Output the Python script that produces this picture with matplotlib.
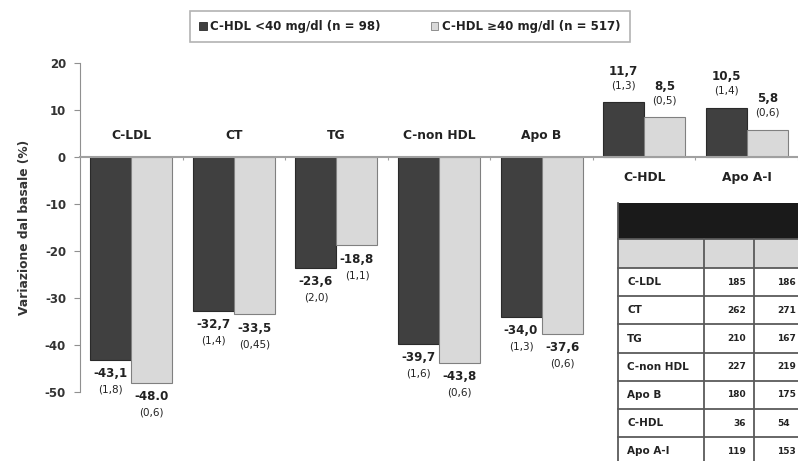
import numpy as np
import matplotlib
matplotlib.use('Agg')
from matplotlib import pyplot as plt
from matplotlib.patches import Rectangle

# data
categories = ['C-LDL', 'CT', 'TG', 'C-non HDL', 'Apo B', 'C-HDL', 'Apo A-I']
low_hdl = [-43.1, -32.7, -23.6, -39.7, -34.0, 11.7, 10.5]
high_hdl = [-48.0, -33.5, -18.8, -43.8, -37.6, 8.5, 5.8]
low_lbl = ['-43,1', '-32,7', '-23,6', '-39,7', '-34,0', '11,7', '10,5']
high_lbl = ['-48.0', '-33,5', '-18,8', '-43,8', '-37,6', '8,5', '5,8']
low_se = ['(1,8)', '(1,4)', '(2,0)', '(1,6)', '(1,3)', '(1,3)', '(1,4)']
high_se = ['(0,6)', '(0,45)', '(1,1)', '(0,6)', '(0,6)', '(0,5)', '(0,6)']
legend_labels = ['C-HDL <40 mg/dl (n = 98)', 'C-HDL \u226540 mg/dl (n = 517)']

tab_rows = ['C-LDL', 'CT', 'TG', 'C-non HDL', 'Apo B', 'C-HDL', 'Apo A-I']
tab_col1 = ['185', '262', '210', '227', '180', '36', '119']
tab_col2 = ['186', '271', '167', '219', '175', '54', '153']

dark = '#404040'
light = '#d9d9d9'
txt = '#222222'
W, H = 798, 461

fig = plt.figure(figsize=(7.98, 4.61), dpi=100)
ax = fig.add_axes([80 / W, 1 - 392 / H, 1 - 80 / W, (392 - 63) / H])

x = np.arange(len(categories))
w = 0.4
ax.bar(x - w / 2, low_hdl, w, color=dark, edgecolor='#2a2a2a', linewidth=0.8, zorder=2)
ax.bar(x + w / 2, high_hdl, w, color=light, edgecolor='#808080', linewidth=0.8, zorder=2)

ax.set_xlim(-0.5, 6.426)
ax.set_ylim(-50, 20)

for sp in ['top', 'right']:
    ax.spines[sp].set_visible(False)
ax.spines['left'].set_color('#909090')
ax.spines['bottom'].set_position(('data', 0))
ax.spines['bottom'].set_color('#a0a0a0')
ax.spines['bottom'].set_linewidth(1.5)
ax.spines['bottom'].set_zorder(3)

yt = [-50, -40, -30, -20, -10, 0, 10, 20]
ax.set_yticks(yt)
ax.set_yticklabels([str(v) for v in yt], fontsize=8.5, fontweight='bold', color='#333333')
ax.tick_params(axis='y', length=4, color='#909090', pad=6)
ax.set_xticks(x + 0.5)
ax.set_xticklabels([])
ax.tick_params(axis='x', length=2, color='#a0a0a0', direction='out')
ax.set_ylabel('Variazione dal basale (%)', fontsize=8.8, fontweight='bold',
              color='#333333', labelpad=10)

# value labels
for i in range(len(categories)):
    for off, v, lab, se in [(-w / 2, low_hdl[i], low_lbl[i], low_se[i]),
                            (w / 2, high_hdl[i], high_lbl[i], high_se[i])]:
        d1, d2 = (-14, -30) if v < 0 else (31, 17)
        ax.annotate(lab, (i + off, v), xytext=(0, d1), textcoords='offset pixels',
                    ha='center', va='center', fontsize=8.6, fontweight='bold', color=txt,
                    annotation_clip=False)
        ax.annotate(se, (i + off, v), xytext=(0, d2), textcoords='offset pixels',
                    ha='center', va='center', fontsize=7.5, color=txt,
                    annotation_clip=False)
    ypos = 4.6 if low_hdl[i] < 0 else -4.4
    ax.text(i, ypos, categories[i], ha='center', va='center', fontsize=8.8,
            fontweight='bold', color=txt)

# legend
handles = [Rectangle((0, 0), 1, 1, facecolor=dark, edgecolor='#2a2a2a', linewidth=0.6),
           Rectangle((0, 0), 1, 1, facecolor=light, edgecolor='#808080', linewidth=0.6)]
leg = fig.legend(handles, legend_labels, ncol=2, loc='center',
                 bbox_to_anchor=(410 / W, 1 - 26.5 / H), fancybox=False,
                 handlelength=0.6, handleheight=0.6, handletextpad=0.3,
                 columnspacing=4.3, borderpad=0.8,
                 prop={'size': 8.5, 'weight': 'bold'})
leg.get_frame().set_edgecolor('#a0a0a0')
leg.get_frame().set_linewidth(1.2)
for t in leg.get_texts():
    t.set_color(txt)

# table overlay (pixel coordinates)
tab = fig.add_axes([0, 0, 1, 1], zorder=5)
tab.set_xlim(0, W)
tab.set_ylim(H, 0)
tab.axis('off')
tab.patch.set_alpha(0)

col_x = [618, 704, 754, 812]
top = 203
head_bot = 239
gray_bot = 268
row_h = 28.2
n = len(tab_rows)
bottom = gray_bot + row_h * n

tab.add_patch(Rectangle((col_x[0], gray_bot), col_x[-1] - col_x[0], bottom - gray_bot,
                        facecolor='white', edgecolor='none'))
tab.add_patch(Rectangle((col_x[0], top), col_x[-1] - col_x[0], head_bot - top,
                        facecolor='#1a1a1a', edgecolor='none'))
tab.add_patch(Rectangle((col_x[0], head_bot), col_x[-1] - col_x[0], gray_bot - head_bot,
                        facecolor='#d9d9d9', edgecolor='none'))
for cx in col_x:
    tab.plot([cx, cx], [head_bot if cx != col_x[0] else top, bottom], color='#5a5a5a', lw=1.3)
for k in range(n + 1):
    yy = gray_bot + row_h * k
    tab.plot([col_x[0], col_x[-1]], [yy, yy], color='#5a5a5a', lw=1.3)
tab.plot([col_x[0], col_x[-1]], [head_bot, head_bot], color='#5a5a5a', lw=1.3)

for k in range(n):
    yc = gray_bot + row_h * (k + 0.5)
    tab.text(col_x[0] + 9, yc, tab_rows[k], ha='left', va='center', fontsize=7.5,
             fontweight='bold', color=txt)
    tab.text(col_x[2] - 8, yc, tab_col1[k], ha='right', va='center', fontsize=6.5,
             fontweight='bold', color=txt)
    tab.text(col_x[2] + 23, yc, tab_col2[k], ha='left', va='center', fontsize=6.5,
             fontweight='bold', color=txt)

fig.savefig('out.png', dpi=100)
